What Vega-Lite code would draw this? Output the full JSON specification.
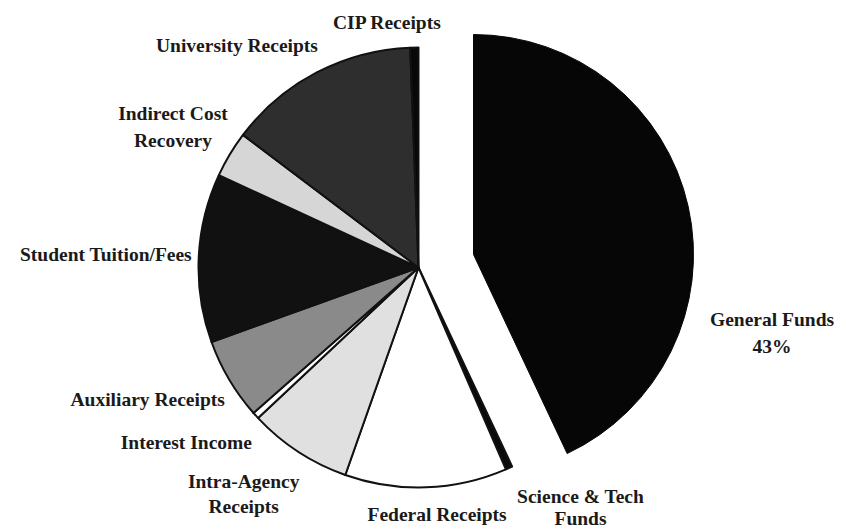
{
  "$schema": "https://vega.github.io/schema/vega-lite/v6.json",
  "width": 837,
  "height": 529,
  "autosize": {"type": "none"},
  "padding": {"left": 0, "top": 3, "right": 0, "bottom": 0},
  "background": "#ffffff",
  "config": {"view": {"stroke": null}},
  "data": {
    "values": [
      {"source": "General Funds", "pct": 43, "ord": 1, "label": "General Funds\n43%"},
      {"source": "Science & Tech Funds", "pct": 0.5, "ord": 2, "label": "Science & Tech\nFunds"},
      {"source": "Federal Receipts", "pct": 11.9, "ord": 3, "label": "Federal Receipts"},
      {"source": "Intra-Agency Receipts", "pct": 7.6, "ord": 4, "label": "Intra-Agency\nReceipts"},
      {"source": "Interest Income", "pct": 0.5, "ord": 5, "label": "Interest Income"},
      {"source": "Auxiliary Receipts", "pct": 6.0, "ord": 6, "label": "Auxiliary Receipts"},
      {"source": "Student Tuition/Fees", "pct": 12.4, "ord": 7, "label": "Student Tuition/Fees"},
      {"source": "Indirect Cost Recovery", "pct": 3.4, "ord": 8, "label": "Indirect Cost\nRecovery"},
      {"source": "University Receipts", "pct": 14.1, "ord": 9, "label": "University Receipts"},
      {"source": "CIP Receipts", "pct": 0.6, "ord": 10, "label": "CIP Receipts"}
    ]
  },
  "encoding": {
    "theta": {"field": "pct", "type": "quantitative", "stack": true},
    "order": {"field": "ord", "type": "quantitative", "sort": "ascending"}
  },
  "layer": [
    {
      "mark": {"type": "arc", "outerRadius": 220, "stroke": "#111111", "strokeWidth": 2, "strokeJoin": "round"},
      "encoding": {
        "color": {
          "field": "source", "type": "nominal", "legend": null,
          "scale": {
            "domain": ["General Funds", "Science & Tech Funds", "Federal Receipts", "Intra-Agency Receipts", "Interest Income", "Auxiliary Receipts", "Student Tuition/Fees", "Indirect Cost Recovery", "University Receipts", "CIP Receipts"],
            "range": ["#060606", "#0a0a0a", "#ffffff", "#e0e0e0", "#ffffff", "#8a8a8a", "#111111", "#d6d6d6", "#2e2e2e", "#080808"]
          }
        },
        "opacity": {"condition": {"test": "datum.source === 'General Funds'", "value": 0}, "value": 1}
      }
    },
    {
      "mark": {"type": "arc", "outerRadius": 220, "stroke": "#060606", "strokeWidth": 1, "xOffset": 55, "yOffset": -13},
      "encoding": {
        "color": {"field": "source", "type": "nominal", "legend": null},
        "opacity": {"condition": {"test": "datum.source === 'General Funds'", "value": 1}, "value": 0}
      }
    },
    {
      "mark": {"type": "text", "radius": 245, "align": "center", "baseline": "middle", "dx": -27, "font": "Liberation Serif", "fontSize": 19.5, "fontWeight": "bold", "fill": "#1a1a1a", "lineBreak": "\n", "lineHeight": 26},
      "encoding": {"text": {"condition": {"test": "datum.source === 'CIP Receipts'", "field": "label", "type": "nominal"}, "value": ""}}
    },
    {
      "mark": {"type": "text", "radius": 250, "align": "right", "baseline": "middle", "dx": 15, "font": "Liberation Serif", "fontSize": 19.5, "fontWeight": "bold", "fill": "#1a1a1a", "lineBreak": "\n", "lineHeight": 26},
      "encoding": {"text": {"condition": {"test": "datum.source === 'University Receipts'", "field": "label", "type": "nominal"}, "value": ""}}
    },
    {
      "mark": {"type": "text", "radius": 270, "align": "center", "baseline": "middle", "dx": -14, "dy": -15, "font": "Liberation Serif", "fontSize": 19.5, "fontWeight": "bold", "fill": "#1a1a1a", "lineBreak": "\n", "lineHeight": 27},
      "encoding": {"text": {"condition": {"test": "datum.source === 'Indirect Cost Recovery'", "field": "label", "type": "nominal"}, "value": ""}}
    },
    {
      "mark": {"type": "text", "radius": 227, "align": "right", "baseline": "middle", "dy": -3, "font": "Liberation Serif", "fontSize": 19.5, "fontWeight": "bold", "fill": "#1a1a1a", "lineBreak": "\n", "lineHeight": 26},
      "encoding": {"text": {"condition": {"test": "datum.source === 'Student Tuition/Fees'", "field": "label", "type": "nominal"}, "value": ""}}
    },
    {
      "mark": {"type": "text", "radius": 225, "align": "right", "baseline": "middle", "dy": 18, "font": "Liberation Serif", "fontSize": 19.5, "fontWeight": "bold", "fill": "#1a1a1a", "lineBreak": "\n", "lineHeight": 26},
      "encoding": {"text": {"condition": {"test": "datum.source === 'Auxiliary Receipts'", "field": "label", "type": "nominal"}, "value": ""}}
    },
    {
      "mark": {"type": "text", "radius": 240, "align": "right", "baseline": "middle", "dx": 11, "dy": 14, "font": "Liberation Serif", "fontSize": 19.5, "fontWeight": "bold", "fill": "#1a1a1a", "lineBreak": "\n", "lineHeight": 26},
      "encoding": {"text": {"condition": {"test": "datum.source === 'Interest Income'", "field": "label", "type": "nominal"}, "value": ""}}
    },
    {
      "mark": {"type": "text", "radius": 265, "align": "center", "baseline": "middle", "dx": -30, "dy": -7, "font": "Liberation Serif", "fontSize": 19.5, "fontWeight": "bold", "fill": "#1a1a1a", "lineBreak": "\n", "lineHeight": 25},
      "encoding": {"text": {"condition": {"test": "datum.source === 'Intra-Agency Receipts'", "field": "label", "type": "nominal"}, "value": ""}}
    },
    {
      "mark": {"type": "text", "radius": 248, "align": "center", "baseline": "middle", "dx": 10, "font": "Liberation Serif", "fontSize": 19.5, "fontWeight": "bold", "fill": "#1a1a1a", "lineBreak": "\n", "lineHeight": 26},
      "encoding": {"text": {"condition": {"test": "datum.source === 'Federal Receipts'", "field": "label", "type": "nominal"}, "value": ""}}
    },
    {
      "mark": {"type": "text", "radius": 260, "align": "center", "baseline": "middle", "dx": 55, "dy": -7, "font": "Liberation Serif", "fontSize": 19.5, "fontWeight": "bold", "fill": "#1a1a1a", "lineBreak": "\n", "lineHeight": 22},
      "encoding": {"text": {"condition": {"test": "datum.source === 'Science & Tech Funds'", "field": "label", "type": "nominal"}, "value": ""}}
    },
    {
      "mark": {"type": "text", "radius": 350, "align": "center", "baseline": "middle", "dx": 12, "dy": 129, "font": "Liberation Serif", "fontSize": 19.5, "fontWeight": "bold", "fill": "#1a1a1a", "lineBreak": "\n", "lineHeight": 27},
      "encoding": {"text": {"condition": {"test": "datum.source === 'General Funds'", "field": "label", "type": "nominal"}, "value": ""}}
    }
  ]
}
